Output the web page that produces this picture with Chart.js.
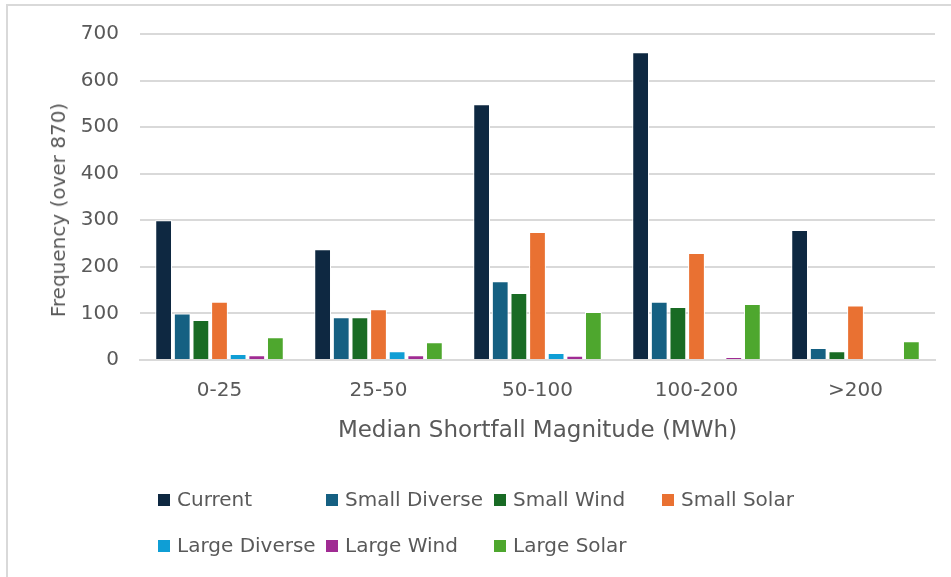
<!DOCTYPE html>
<html>
<head>
<meta charset="utf-8">
<script src="https://cdn.jsdelivr.net/npm/chart.js@4.4.1/dist/chart.umd.min.js"></script>
<style>
  html, body { margin: 0; padding: 0; background: #fff; overflow: hidden; }
  #wrap { position: relative; width: 951px; height: 577px; overflow: hidden; }
  #lineTop { position: absolute; left: 6px; top: 4px; width: 945px; height: 2px; background: #d9d9d9; }
  #lineLeft { position: absolute; left: 6px; top: 4px; width: 2px; height: 573px; background: #d9d9d9; }
  #chart { position: absolute; left: 0; top: 0; }
  #ytitle { position: absolute; left: 58px; top: 210px; transform: translate(-50%, -50%) rotate(-90deg);
            white-space: nowrap; font-family: "DejaVu Sans", sans-serif; font-size: 20px; color: #595959; }
  #legend { position: absolute; left: 158px; top: 487px; width: 700px; font-family: "DejaVu Sans", sans-serif; font-size: 20px; color: #595959; }
  .item { position: absolute; white-space: nowrap; line-height: 24px; }
  .item span.box { display: inline-block; width: 12px; height: 12px; margin-right: 7px; vertical-align: 0px; }
</style>
</head>
<body>
<div id="wrap">
  <div id="lineTop"></div>
  <div id="lineLeft"></div>
  <canvas id="chart" width="951" height="577"></canvas>
  <div id="ytitle">Frequency (over 870)</div>
  <div id="legend"></div>
</div>
<script>
let categories = ['0-25', '25-50', '50-100', '100-200', '>200'];
let seriesNames = ['Current', 'Small Diverse', 'Small Wind', 'Small Solar', 'Large Diverse', 'Large Wind', 'Large Solar'];
let current      = [300, 238, 549, 661, 279];
let smallDiverse = [100, 92, 169, 125, 26];
let smallWind    = [86, 92, 144, 114, 19];
let smallSolar   = [125, 109, 275, 230, 117];
let largeDiverse = [13, 19, 15, 0, 0];
let largeWind    = [10, 10, 9, 6, 0];
let largeSolar   = [49, 38, 103, 120, 40];
let yTicks = [0, 100, 200, 300, 400, 500, 600, 700];

let colors = ['#0e2841', '#156082', '#196b24', '#e97132', '#0f9ed5', '#a02b93', '#4ea72e'];
let allValues = [current, smallDiverse, smallWind, smallSolar, largeDiverse, largeWind, largeSolar];

let datasets = seriesNames.map((n, i) => ({
    label: n,
    data: allValues[i],
    backgroundColor: colors[i],
    borderColor: '#ffffff',
    borderWidth: 1,
    categoryPercentage: 0.82,
    barPercentage: 0.9
}));

let txt = '#595959';
let font = '"DejaVu Sans", sans-serif';

let ctx = document.querySelector('#chart');
let chart = new Chart(ctx, {
    type: 'bar',
    data: { labels: categories, datasets: datasets },
    options: {
        responsive: false,
        animation: false,
        layout: { padding: { left: 35, right: 16, top: 34, bottom: 129 } },
        plugins: { legend: { display: false }, tooltip: { enabled: false } },
        scales: {
            x: {
                afterFit: s => { s.height = 88; },
                grid: { display: false, drawTicks: false },
                border: { color: '#d9d9d9', width: 2 },
                ticks: { color: txt, font: { family: font, size: 20 }, padding: 19 },
                title: { display: true, text: 'Median Shortfall Magnitude (MWh)', color: txt,
                         font: { family: font, size: 23 }, padding: { top: 10, bottom: 3 } }
            },
            y: {
                min: 0, max: 700,
                afterBuildTicks: s => { s.ticks = yTicks.map(v => ({ value: v })); },
                afterFit: s => { s.width = 105; },
                grid: { color: '#d9d9d9', lineWidth: 2, drawTicks: false },
                border: { display: false },
                ticks: { color: txt, font: { family: font, size: 20 }, padding: 21 }
            }
        }
    }
});

// legend laid out as a grid, like the original
let legendPos = [[0, 0], [168, 0], [336, 0], [504, 0], [0, 46], [168, 46], [336, 46]];
let legend = document.querySelector('#legend');
seriesNames.forEach((n, i) => {
    let el = document.createElement('div');
    el.className = 'item';
    el.style.left = legendPos[i][0] + 'px';
    el.style.top = legendPos[i][1] + 'px';
    el.innerHTML = '<span class="box" style="background:' + colors[i] + '"></span>' + n;
    legend.appendChild(el);
});
</script>
</body>
</html>
